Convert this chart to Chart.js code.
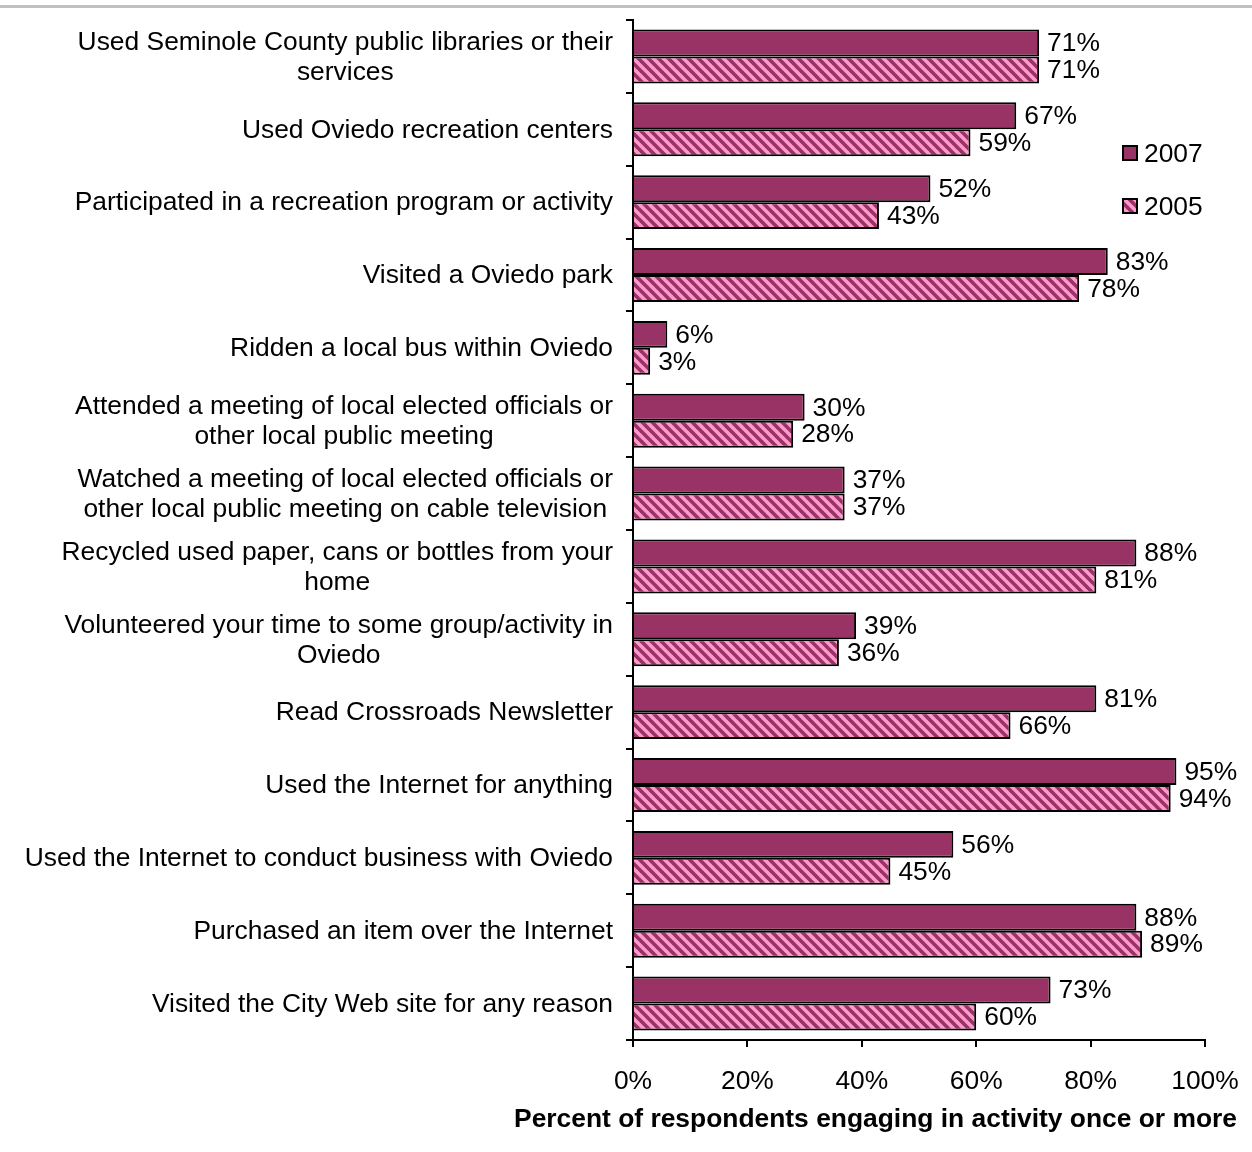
<!DOCTYPE html>
<html>
<head>
<meta charset="utf-8">
<style>
  html, body { margin: 0; padding: 0; background: #fff; }
  canvas { display: block; }
</style>
<script src="https://cdn.jsdelivr.net/npm/chart.js@4.4.1/dist/chart.umd.min.js"></script>
</head>
<body>
<canvas id="chart" width="1252" height="1152"></canvas>
<script>
const COLOR_BLACK = "#000";
const COLOR_2007 = "#993366";
const COLOR_2005 = "#ff99cc";
const FONT_FAMILY = "'Liberation Sans', Arial, sans-serif";
const FONT_SIZE = 26.4;

const categories = [
  ["Used Seminole County public libraries or their", "services"],
  ["Used Oviedo recreation centers"],
  ["Participated in a recreation program or activity"],
  ["Visited a Oviedo park"],
  ["Ridden a local bus within Oviedo"],
  ["Attended a meeting of local elected officials or", "other local public meeting"],
  ["Watched a meeting of local elected officials or", "other local public meeting on cable television"],
  ["Recycled used paper, cans or bottles from your", "home"],
  ["Volunteered your time to some group/activity in", "Oviedo"],
  ["Read Crossroads Newsletter"],
  ["Used the Internet for anything"],
  ["Used the Internet to conduct business with Oviedo"],
  ["Purchased an item over the Internet"],
  ["Visited the City Web site for any reason"],
];
const values2007 = [71, 67, 52, 83, 6, 30, 37, 88, 39, 81, 95, 56, 88, 73];
const values2005 = [71, 59, 43, 78, 3, 28, 37, 81, 36, 66, 94, 45, 89, 60];
const xTicks = [0, 20, 40, 60, 80, 100];
const xTitle = "Percent of respondents engaging in activity once or more";

// diagonal hatch fill for the 2005 series
function hatchPattern() {
  const size = 10;
  const tile = document.createElement("canvas");
  tile.width = size;
  tile.height = size;
  const c = tile.getContext("2d");
  c.fillStyle = COLOR_2005;
  c.fillRect(0, 0, size, size);
  c.strokeStyle = COLOR_2007;
  c.lineWidth = 3.6;
  for (let k = -1; k <= 1; k++) {
    c.beginPath();
    c.moveTo(k * size - 1, -1);
    c.lineTo(k * size + size + 1, size + 1);
    c.stroke();
  }
  return c.createPattern(tile, "repeat");
}

const font = (weight) => `${weight} ${FONT_SIZE}px ${FONT_FAMILY}`;

const topRule = {
  id: "topRule",
  beforeDraw(chart) {
    const { ctx, width } = chart;
    ctx.save();
    ctx.fillStyle = "#c0c0c0";
    ctx.fillRect(0, 5, width, 3);
    ctx.restore();
  },
};

// category labels: right-aligned block, lines centred within it
const categoryLabels = {
  id: "categoryLabels",
  afterDraw(chart) {
    const { ctx } = chart;
    const y = chart.scales.y;
    const right = chart.chartArea.left - 20;
    const lineH = 30;
    ctx.save();
    ctx.font = font("normal");
    ctx.fillStyle = COLOR_BLACK;
    ctx.textAlign = "center";
    ctx.textBaseline = "middle";
    categories.forEach((lines, i) => {
      const cy = y.getPixelForTick(i);
      const blockW = Math.max(...lines.map((l) => ctx.measureText(l).width));
      const cx = right - blockW / 2;
      lines.forEach((l, j) => {
        ctx.fillText(l, cx, cy + 1 + (j - (lines.length - 1) / 2) * lineH);
      });
    });
    ctx.restore();
  },
};

const valueLabels = {
  id: "valueLabels",
  afterDatasetsDraw(chart) {
    const { ctx } = chart;
    ctx.save();
    ctx.font = font("normal");
    ctx.fillStyle = COLOR_BLACK;
    ctx.textAlign = "left";
    ctx.textBaseline = "middle";
    chart.data.datasets.forEach((ds, di) => {
      chart.getDatasetMeta(di).data.forEach((bar, i) => {
        ctx.fillText(ds.data[i] + "%", bar.x + 8, bar.y + 1);
      });
    });
    ctx.restore();
  },
};

const sideLegend = {
  id: "sideLegend",
  afterDraw(chart) {
    const { ctx } = chart;
    const x = chart.chartArea.right - 83;
    const rows = [145, 198];
    ctx.save();
    ctx.font = font("normal");
    ctx.textBaseline = "middle";
    chart.data.datasets.forEach((ds, i) => {
      const top = rows[i];
      ctx.fillStyle = ds.backgroundColor;
      ctx.fillRect(x, top, 16, 16);
      ctx.strokeStyle = COLOR_BLACK;
      ctx.lineWidth = 2;
      ctx.strokeRect(x + 1, top + 1, 14, 14);
      ctx.fillStyle = COLOR_BLACK;
      ctx.fillText(ds.label, x + 22, top + 10);
    });
    ctx.restore();
  },
};

const axisTitle = {
  id: "axisTitle",
  afterDraw(chart) {
    const { ctx } = chart;
    ctx.save();
    ctx.font = font("bold");
    ctx.fillStyle = COLOR_BLACK;
    ctx.textAlign = "right";
    ctx.textBaseline = "middle";
    ctx.fillText(xTitle, chart.chartArea.right + 32, 1120);
    ctx.restore();
  },
};

const ctx = document.getElementById("chart").getContext("2d");

new Chart(ctx, {
  type: "bar",
  data: {
    labels: categories,
    datasets: [
      {
        label: "2007",
        data: values2007,
        backgroundColor: COLOR_2007,
        borderColor: COLOR_BLACK,
        borderWidth: 2,
      },
      {
        label: "2005",
        data: values2005,
        backgroundColor: hatchPattern(),
        borderColor: COLOR_BLACK,
        borderWidth: 2,
      },
    ],
  },
  options: {
    indexAxis: "y",
    responsive: false,
    animation: false,
    devicePixelRatio: 1,
    layout: { padding: { top: 20, right: 47, left: 0, bottom: 0 } },
    datasets: {
      bar: { categoryPercentage: 0.74, barPercentage: 1 },
    },
    scales: {
      x: {
        min: 0,
        max: 100,
        afterBuildTicks: (scale) => {
          scale.ticks = xTicks.map((v) => ({ value: v }));
        },
        afterFit: (scale) => {
          scale.height = 112;
          scale.paddingLeft = 0;
          scale.paddingRight = 0;
        },
        border: { color: COLOR_BLACK, width: 2 },
        grid: {
          drawOnChartArea: false,
          color: COLOR_BLACK,
          lineWidth: 2,
          tickLength: 7,
        },
        ticks: {
          color: COLOR_BLACK,
          font: { family: FONT_FAMILY, size: FONT_SIZE },
          padding: 19,
          maxRotation: 0,
          callback: (v) => v + "%",
        },
      },
      y: {
        afterFit: (scale) => {
          scale.width = 633;
        },
        border: { color: COLOR_BLACK, width: 2 },
        grid: {
          drawOnChartArea: false,
          offset: true,
          color: COLOR_BLACK,
          lineWidth: 2,
          tickLength: 7,
        },
        ticks: { display: false },
      },
    },
    plugins: {
      legend: { display: false },
      tooltip: { enabled: false },
    },
  },
  plugins: [topRule, categoryLabels, valueLabels, sideLegend, axisTitle],
});
</script>
</body>
</html>
